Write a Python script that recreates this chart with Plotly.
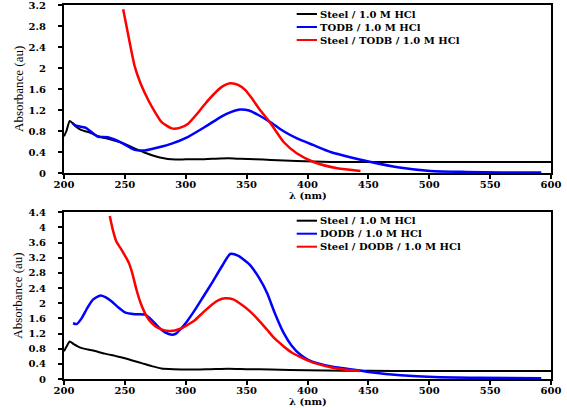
import plotly.graph_objects as go

# ---------------- data ----------------
# Top panel (TODB)
top_black_x = [200, 202, 204.7, 207, 210, 214, 220, 228, 238, 247, 258, 266, 275, 288, 300, 310, 322, 335, 345, 357, 370, 391, 419, 450, 500, 550, 600]
top_black_y = [0.70, 0.80, 0.99, 0.95, 0.88, 0.82, 0.78, 0.70, 0.64, 0.58, 0.47, 0.39, 0.32, 0.26, 0.26, 0.26, 0.27, 0.28, 0.27, 0.26, 0.25, 0.23, 0.21, 0.21, 0.21, 0.21, 0.21]

top_blue_x = [207, 210, 214, 218, 222.5, 228, 236, 247, 258, 266.5, 278, 288.5, 302, 316, 329.6, 337, 344.7, 352, 360, 369.4, 380, 391.4, 405, 419, 435, 452, 474, 501, 530, 560, 592]
top_blue_y = [0.95, 0.90, 0.88, 0.86, 0.78, 0.69, 0.68, 0.58, 0.44, 0.43, 0.49, 0.56, 0.69, 0.88, 1.08, 1.16, 1.21, 1.19, 1.10, 0.97, 0.80, 0.66, 0.53, 0.40, 0.30, 0.21, 0.11, 0.04, 0.02, 0.01, 0.01]

top_red_x = [248.6, 253, 258.2, 263, 269.2, 275, 280.2, 288.5, 295, 302, 309, 316, 323, 329.6, 336.5, 343, 349, 355, 361, 368, 374, 380.4, 391.4, 405, 424.4, 443.5]
top_red_y = [3.12, 2.60, 2.02, 1.70, 1.39, 1.15, 0.97, 0.85, 0.86, 0.94, 1.12, 1.32, 1.50, 1.64, 1.71, 1.68, 1.58, 1.40, 1.20, 1.00, 0.80, 0.59, 0.37, 0.21, 0.09, 0.04]

# Bottom panel (DODB)
bot_black_x = [200, 202, 204.7, 208, 214, 224, 233.5, 242, 250, 257, 263.8, 272, 280, 290, 302, 320, 335, 350, 370, 400, 430, 470, 520, 600]
bot_black_y = [0.73, 0.85, 0.99, 0.92, 0.82, 0.75, 0.67, 0.61, 0.55, 0.48, 0.42, 0.34, 0.28, 0.26, 0.25, 0.26, 0.27, 0.26, 0.25, 0.23, 0.22, 0.21, 0.21, 0.21]

bot_blue_x = [207.4, 210.5, 214, 219.8, 224, 229.4, 234, 239, 245, 250, 258, 266.5, 270, 274.7, 279, 283, 288.5, 292, 295.3, 301, 307.7, 314, 321.4, 329.6, 336.5, 343.3, 348, 353, 360, 366.8, 373, 380.5, 387, 394.2, 401, 408, 421.6, 435, 452, 476.4, 503.8, 540, 592]
bot_blue_y = [1.47, 1.45, 1.58, 1.91, 2.10, 2.20, 2.16, 2.05, 1.88, 1.76, 1.71, 1.70, 1.62, 1.47, 1.33, 1.23, 1.17, 1.20, 1.30, 1.52, 1.83, 2.15, 2.53, 2.97, 3.30, 3.25, 3.14, 3.00, 2.68, 2.27, 1.75, 1.21, 0.88, 0.64, 0.50, 0.42, 0.32, 0.26, 0.18, 0.10, 0.05, 0.03, 0.02]

bot_red_x = [237.6, 240, 243, 247.3, 253.3, 256, 259.6, 263, 266.5, 270, 274.7, 280, 285.7, 291, 296.7, 302, 307.7, 314, 321.4, 327, 332.4, 339, 346, 353, 360, 366.8, 373, 380.5, 387, 394.2, 401, 408, 421.6, 430, 443]
bot_red_y = [4.30, 3.95, 3.63, 3.41, 3.06, 2.80, 2.35, 2.00, 1.74, 1.55, 1.40, 1.31, 1.27, 1.28, 1.34, 1.44, 1.56, 1.75, 1.96, 2.08, 2.13, 2.10, 1.96, 1.78, 1.55, 1.30, 1.07, 0.86, 0.70, 0.58, 0.48, 0.40, 0.29, 0.25, 0.21]

top_labels = ["Steel / 1.0 M HCl", "TODB / 1.0 M HCl", "Steel / TODB / 1.0 M HCl"]
bot_labels = ["Steel / 1.0 M HCl", "DODB / 1.0 M HCl", "Steel / DODB / 1.0 M HCl"]
colors = ["#000000", "#0000ff", "#ff0000"]
widths = [2, 2.5, 2.5]

x_ticks = [200, 250, 300, 350, 400, 450, 500, 550, 600]
x_title = "λ (nm)"
y_title = "Absorbance (au)"

# ---------------- figure ----------------
W, H = 567, 408
ML, MR, MT, MB = 64, 16, 5, 29
plot_h = H - MT - MB
plot_w = W - ML - MR

def py2paper(py):
    return (H - MB - py) / plot_h

def px2paper(px):
    return (px - ML) / plot_w

fig = go.Figure()

top_series = [(top_black_x, top_black_y), (top_blue_x, top_blue_y), (top_red_x, top_red_y)]
bot_series = [(bot_black_x, bot_black_y), (bot_blue_x, bot_blue_y), (bot_red_x, bot_red_y)]

for (xs, ys), lab, c, w in zip(top_series, top_labels, colors, widths):
    fig.add_trace(go.Scatter(x=xs, y=ys, mode="lines", name=lab, showlegend=False,
                             line=dict(color=c, width=w, shape="spline", smoothing=0.6),
                             xaxis="x", yaxis="y"))
for (xs, ys), lab, c, w in zip(bot_series, bot_labels, colors, widths):
    fig.add_trace(go.Scatter(x=xs, y=ys, mode="lines", name=lab, showlegend=False,
                             line=dict(color=c, width=w, shape="spline", smoothing=0.6),
                             xaxis="x2", yaxis="y2"))

tick_font = dict(family="DejaVu Serif", size=10, color="black", weight="bold")
title_font_x = dict(family="DejaVu Serif", size=10, color="black", weight="bold")
title_font_y = dict(family="Liberation Serif", size=13, color="black")

xcommon = dict(range=[200, 600], tickvals=x_ticks, showgrid=False, zeroline=False,
               showline=True, linecolor="black", linewidth=2, mirror=True,
               ticks="outside", ticklen=4, tickwidth=1.5, tickcolor="black",
               tickfont=tick_font, ticklabelstandoff=-3, automargin=False,
               ticklabeloverflow="allow")
ycommon = dict(dtick=0.4, tick0=0, showgrid=False, zeroline=False,
               showline=True, linecolor="black", linewidth=2, mirror=True,
               ticks="outside", ticklen=4, tickwidth=1.5, tickcolor="black",
               tickfont=tick_font, ticklabelstandoff=10, automargin=False,
               ticklabeloverflow="allow")

top_dom = [py2paper(173), 1.0]
bot_dom = [0.0, py2paper(212.3)]

fig.update_layout(
    width=W, height=H,
    margin=dict(l=ML, r=MR, t=MT, b=MB),
    paper_bgcolor="white", plot_bgcolor="white",
    xaxis=dict(**xcommon, domain=[0, 1], anchor="y"),
    yaxis=dict(**ycommon, range=[0, 3.2], domain=top_dom, anchor="x"),
    xaxis2=dict(**xcommon, domain=[0, 1], anchor="y2"),
    yaxis2=dict(**ycommon, range=[0, 4.4], domain=bot_dom, anchor="x2"),
)

# axis titles as annotations for exact placement
for xa, ya in (("x", "y"), ("x2", "y2")):
    fig.add_annotation(xref=f"{xa} domain", yref=f"{ya} domain", x=0.5, y=0,
                       xanchor="center", yanchor="middle", yshift=-22.5,
                       text=x_title, showarrow=False, font=title_font_x)
    fig.add_annotation(xref=f"{xa} domain", yref=f"{ya} domain", x=0, y=0.5,
                       xanchor="center", yanchor="middle", xshift=-46, textangle=-90,
                       text=y_title, showarrow=False, font=title_font_y)

# custom compact legends (key lines + one multi-line text block)
legend_font = dict(family="DejaVu Serif", size=10, color="black", weight="bold")
key_x0, key_x1, text_x = 296.7, 317, 317.5
line_gap = 13.0
for labels, first_row in ((top_labels, 14.0), (bot_labels, 220.7)):
    rows = [first_row + i * line_gap for i in range(len(labels))]
    for c, py in zip(colors, rows):
        yp = py2paper(py)
        fig.add_shape(type="line", xref="paper", yref="paper",
                      x0=px2paper(key_x0), x1=px2paper(key_x1), y0=yp, y1=yp,
                      line=dict(color=c, width=2))
    fig.add_annotation(xref="paper", yref="paper", x=px2paper(text_x),
                       y=py2paper((rows[0] + rows[-1]) / 2),
                       xanchor="left", yanchor="middle", align="left",
                       text="<br>".join(labels), showarrow=False, font=legend_font)

fig.write_html("out.html", config={"displayModeBar": False},
               post_script="document.body.style.margin='0px';")
